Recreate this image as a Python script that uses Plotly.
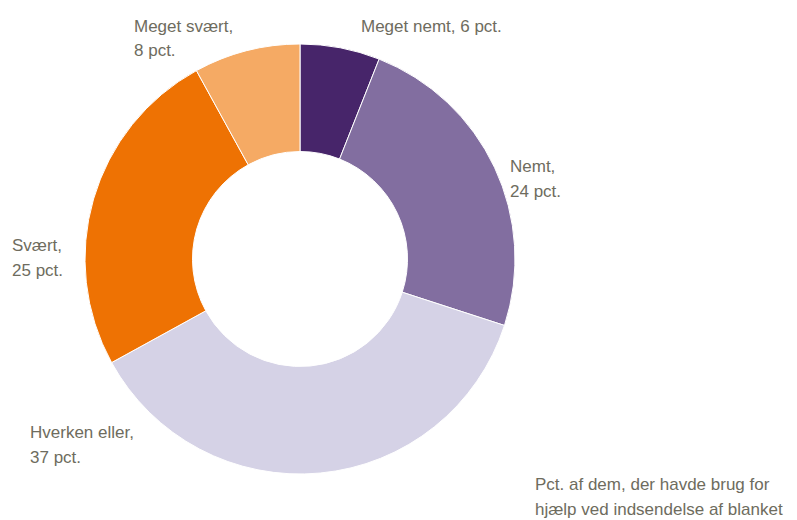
import plotly.graph_objects as go

categories = ["Meget nemt", "Nemt", "Hverken eller", "Svært", "Meget svært"]
values = [6, 24, 37, 25, 8]
label_lines = [["Meget nemt, 6 pct."], ["Nemt,", "24 pct."], ["Hverken eller,", "37 pct."],
               ["Svært,", "25 pct."], ["Meget svært,", "8 pct."]]
note_lines = ["Pct. af dem, der havde brug for", "hjælp ved indsendelse af blanket"]

colors = ["#47256a", "#826ea0", "#d5d2e6", "#ee7203", "#f5aa64"]

W, H = 797, 520
cx, cy, r = 300, 259, 215

fig = go.Figure(go.Pie(
    labels=categories,
    values=values,
    hole=0.5,
    sort=False,
    direction="clockwise",
    rotation=0,
    marker=dict(colors=colors, line=dict(color="white", width=1)),
    textinfo="none",
    hoverinfo="label+percent",
    showlegend=False,
    domain=dict(x=[(cx - r) / W, (cx + r) / W],
                y=[(H - cy - r) / H, (H - cy + r) / H]),
))

# label pixel positions (left x, first-line centre y)
label_pos = [(359, 26), (508, 166), (28, 432), (10, 245), (132, 26)]
line_gap = 25
font = dict(family="Liberation Sans, Arial, sans-serif", size=17, color="#6e6c5e")

annotations = []
def add_lines(lines, px, py):
    for i, t in enumerate(lines):
        annotations.append(dict(x=px / W, y=1 - (py + i * line_gap) / H,
                                xref="paper", yref="paper", text=t, showarrow=False,
                                xanchor="left", yanchor="middle", align="left", font=font))

for lines, (px, py) in zip(label_lines, label_pos):
    add_lines(lines, px, py)
add_lines(note_lines, 533, 484)

fig.update_layout(
    width=W, height=H,
    margin=dict(l=0, r=0, t=0, b=0),
    paper_bgcolor="white",
    plot_bgcolor="white",
    annotations=annotations,
)

fig.write_html("out.html", config={"displayModeBar": False},
               post_script="document.body.style.margin='0';document.body.style.overflow='hidden';")
